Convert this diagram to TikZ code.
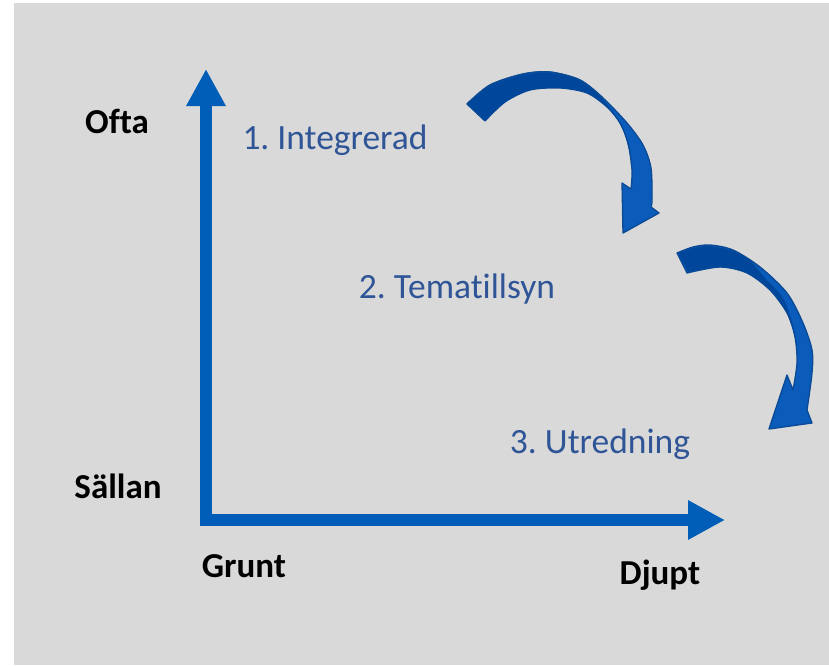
\documentclass[tikz,border=0pt]{standalone}
\usepackage{fontspec}
\setmainfont{Carlito}[Ligatures=CommonOff]
\usetikzlibrary{arrows.meta}
\frenchspacing
\definecolor{bggray}{HTML}{D9D9D9}
\definecolor{axisblue}{HTML}{005EB8}
\definecolor{lightblue}{HTML}{0A5BBA}
\definecolor{darkblue}{HTML}{00479B}
\definecolor{edgeblue}{HTML}{0B4A94}
\definecolor{textblue}{HTML}{2F5597}
\tikzset{
  axisline/.style={draw=axisblue, line width=12pt, line join=miter,
    {Triangle[length=37pt,width=37pt]}-{Triangle[length=37pt,width=37pt]}},
  ribbon/.style={fill=lightblue, draw=edgeblue, line width=1.3pt, line join=round},
  ribbondark/.style={fill=darkblue},
  steplabel/.style={anchor=base, text=textblue, inner sep=0pt, font=\fontsize{35.5}{42}\selectfont},
  axislabel/.style={anchor=base, text=black, inner sep=0pt, font=\fontsize{35}{42}\selectfont\bfseries}
}
\begin{document}
\begin{tikzpicture}[x=1pt,y=-1pt]
\useasboundingbox (0,0) rectangle (829,665);
\fill[white] (0,0) rectangle (829,665);
\fill[bggray] (14,3) rectangle (829,665);

% axes
\coordinate (ytip) at (206,69);
\coordinate (origin) at (206,520);
\coordinate (xtip) at (725,520);
\draw[axisline] (ytip) -- (origin) -- (xtip);

% curved arrow 1
\path[ribbon] (467,104) -- plot[smooth] coordinates {(467,104) (490,85) (523,74) (550,72) (580,80) (603,98) (627,123) (643,145) (651,168) (652,200) (651,207)}
  -- (659,213) -- (623,233) -- (622,183) -- (631,189)
  -- plot[smooth] coordinates {(631,189) (632,170) (628,143) (620,123) (607,107) (587,93) (560,88) (530,90) (505,102) (485,121)} -- cycle;
\path[ribbondark] (468,104) -- plot[smooth] coordinates {(468,104) (490,86) (523,75) (550,73) (575,78) (590,86)}
  -- plot[smooth] coordinates {(590,86) (601,97) (613,112) (623,130) (629,150) (631,165)}
  -- plot[smooth] coordinates {(631,165) (628,143) (620,123) (607,107) (587,93) (560,88) (530,90) (505,102) (485,120)} -- cycle;
\path[draw=edgeblue, line width=1.3pt, line join=round] plot[smooth] coordinates {(467,104) (490,85) (523,74) (550,72) (580,80) (603,98)};

% curved arrow 2
\path[ribbon] (677,253) -- plot[smooth] coordinates {(677,253) (693,247) (710,245) (733,250) (760,267) (787,293) (803,323) (812,350) (812,373) (807,410)}
  -- (812,423) -- (769,429) -- (787,375) -- (793,390)
  -- plot[smooth] coordinates {(793,390) (797,363) (795,337) (787,313) (770,290) (747,273) (720,267) (687,273)} -- cycle;
\path[ribbondark] (678,253) -- plot[smooth] coordinates {(678,253) (693,248) (710,246) (733,251) (750,260)}
  -- plot[smooth] coordinates {(750,260) (765,278) (783,298) (793,325) (796,345)}
  -- plot[smooth] coordinates {(796,345) (795,337) (787,313) (770,290) (747,273) (720,267) (688,272)} -- cycle;

% labels
\node[axislabel] (ofta) at (117,133) {Ofta};
\node[axislabel] (sallan) at (118,498) {Sällan};
\node[axislabel] (grunt) at (244,577) {Grunt};
\node[axislabel] (djupt) at (660,584) {Djupt};
\node[steplabel] (s1) at (335,149) {1. Integrerad};
\node[steplabel] (s2) at (457,298) {2. Tematillsyn};
\node[steplabel] (s3) at (600,453) {3. Utredning};
\end{tikzpicture}
\end{document}
